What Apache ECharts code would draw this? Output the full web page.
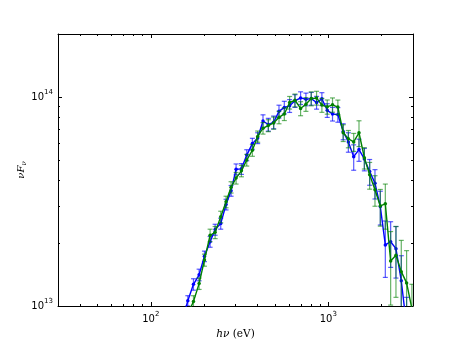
<!DOCTYPE html>
<html><head><meta charset="utf-8">
<script src="https://cdn.jsdelivr.net/npm/echarts@6/dist/echarts.min.js"></script>
<style>html,body{margin:0;padding:0;background:#fff}#c{width:458px;height:345px}</style>
</head><body><div id="c"></div>
<script>
// photon energy hν (eV)
const energy = [150.7, 161.6, 173.9, 187.1, 200.5, 215.8, 230.3, 247.7, 265.4, 283.3, 302.3, 323.9, 347.1, 373.4, 400.0, 428.6, 459.2, 492.2, 527.4, 565.1, 605.5, 648.8, 698.0, 748.0, 801.4, 858.7, 920.1, 986.0, 1056, 1132, 1213, 1297, 1390, 1489, 1596, 1710, 1832, 1963, 2095, 2245, 2405, 2577, 2761, 2958];
// νFν in units of 1e13
const FLUX_UNIT = 1e13;
const blueFlux = [0.85, 1.06, 1.27, 1.41, 1.73, 2.03, 2.32, 2.48, 3.06, 3.56, 4.51, 4.53, 5.27, 5.98, 6.36, 7.67, 7.38, 7.57, 8.53, 8.91, 9.07, 9.58, 9.89, 9.75, 9.82, 9.40, 9.79, 8.63, 8.29, 8.23, 6.84, 6.09, 5.18, 5.60, 5.05, 4.40, 3.87, 2.99, 1.96, 2.03, 1.88, 1.32, 0.80];
const blueErr = [0.05, 0.06, 0.08, 0.09, 0.10, 0.12, 0.14, 0.15, 0.18, 0.21, 0.27, 0.27, 0.32, 0.36, 0.38, 0.54, 0.52, 0.53, 0.60, 0.62, 0.64, 0.67, 0.69, 0.68, 0.69, 0.66, 0.69, 0.65, 0.62, 0.66, 0.60, 0.65, 0.72, 0.68, 0.62, 0.62, 0.62, 0.55, 0.59, 0.50, 0.52, 0.42, 0.30];
const greenFlux = [0.80, 0.92, 1.05, 1.28, 1.66, 2.18, 2.25, 2.67, 3.15, 3.70, 4.09, 4.43, 4.99, 5.56, 6.47, 7.09, 7.30, 7.51, 7.99, 8.29, 9.40, 9.64, 8.81, 9.23, 9.82, 9.89, 9.14, 8.97, 9.17, 8.94, 6.74, 6.31, 6.09, 6.74, 5.12, 4.24, 3.60, 3.01, 3.08, 1.64, 1.75, 1.46, 1.29, 0.97];
const greenErr = [0.05, 0.06, 0.07, 0.08, 0.11, 0.15, 0.15, 0.17, 0.20, 0.23, 0.26, 0.28, 0.32, 0.36, 0.40, 0.45, 0.48, 0.50, 0.55, 0.58, 0.65, 0.68, 0.68, 0.70, 0.75, 0.75, 0.70, 0.70, 0.72, 0.72, 0.62, 0.60, 0.60, 0.95, 0.60, 0.62, 0.60, 0.60, 0.75, 0.63, 0.65, 0.60, 0.55, 0.30];

const xRange = [30, 3000];
const yRange = [1e13, 2e14];
const xMajorTicks = [100, 1000];
const xMinorTicks = [40, 50, 60, 70, 80, 90, 200, 300, 400, 500, 600, 700, 800, 900, 2000, 3000];
const yMajorTicks = [1e13, 1e14];
const yMinorTicks = [2e13, 3e13, 4e13, 5e13, 6e13, 7e13, 8e13, 9e13, 2e14];

const L = Math.log10;
const black = '#000';
const tickFont = 'DejaVu Sans';
const supRich = {
  b: {fontFamily: tickFont, fontSize: 10, lineHeight: 16, color: black},
  s: {fontFamily: tickFont, fontSize: 7, verticalAlign: 'top', color: black}
};
function powLabel(v) { return '{b|10}{s|' + Math.round(v) + '}'; }

function tickAxis(pos, range, vals, len, withLine, labels, extra) {
  const ax = Object.assign({
    type: 'value', position: pos, min: L(range[0]), max: L(range[1]),
    axisLine: {show: withLine, onZero: false, lineStyle: {color: black, width: 1}},
    axisTick: {show: true, inside: true, length: len, customValues: vals.map(L), lineStyle: {color: black, width: 1}},
    axisLabel: labels ? {show: true, customValues: vals.map(L), formatter: powLabel, rich: supRich, margin: 5} : {show: false},
    splitLine: {show: false}
  }, extra || {});
  return ax;
}

const serif = 'DejaVu Serif';
const xAxes = [
  {type: 'log', logBase: 10, min: xRange[0], max: xRange[1], show: false, position: 'bottom'},
  tickAxis('bottom', xRange, xMajorTicks, 4, true, true, {
    name: '{i|hν} {r|(eV)}', nameLocation: 'middle', nameGap: 22, nameMoveOverlap: false,
    nameTextStyle: {rich: {i: {fontFamily: serif, fontStyle: 'italic', fontSize: 10.5, color: black}, r: {fontFamily: serif, fontSize: 10.5, color: black}}}
  }),
  tickAxis('bottom', xRange, xMinorTicks, 2, false, false),
  tickAxis('top', xRange, xMajorTicks, 4, true, false),
  tickAxis('top', xRange, xMinorTicks, 2, false, false)
];
const yAxes = [
  {type: 'log', logBase: 10, min: yRange[0], max: yRange[1], show: false, position: 'left'},
  tickAxis('left', yRange, yMajorTicks, 4, true, true, {
    name: '{i|νF}{s|ν}', nameLocation: 'middle', nameGap: 30, nameRotate: 90, nameMoveOverlap: false,
    nameTextStyle: {rich: {i: {fontFamily: serif, fontStyle: 'italic', fontSize: 10, lineHeight: 14, color: black}, s: {fontFamily: serif, fontStyle: 'italic', fontSize: 7, verticalAlign: 'bottom', color: black}}}
  }),
  tickAxis('left', yRange, yMinorTicks, 2, false, false),
  tickAxis('right', yRange, yMajorTicks, 4, true, false),
  tickAxis('right', yRange, yMinorTicks, 2, false, false)
];

function errData(flux, err) {
  return flux.map((f, i) => [energy[i], (f - err[i]) * FLUX_UNIT, (f + err[i]) * FLUX_UNIT]);
}
function lineData(flux) {
  return flux.map((f, i) => [energy[i], f * FLUX_UNIT]);
}
function errSeries(flux, err, color, z) {
  return {
    type: 'custom', xAxisIndex: 0, yAxisIndex: 0, clip: true, z: z,
    data: errData(flux, err),
    encode: {x: 0, y: [1, 2]},
    renderItem: function (params, api) {
      const x = api.value(0);
      const p1 = api.coord([x, api.value(1)]);
      const p2 = api.coord([x, api.value(2)]);
      const c = 2.5;
      const st = {stroke: color, lineWidth: 1.2};
      return {type: 'group', children: [
        {type: 'line', shape: {x1: p1[0], y1: p1[1], x2: p2[0], y2: p2[1]}, style: st},
        {type: 'line', shape: {x1: p1[0] - c, y1: p1[1], x2: p1[0] + c, y2: p1[1]}, style: st},
        {type: 'line', shape: {x1: p2[0] - c, y1: p2[1], x2: p2[0] + c, y2: p2[1]}, style: st}
      ]};
    }
  };
}
function lineSeries(flux, color, z) {
  return {
    type: 'line', xAxisIndex: 0, yAxisIndex: 0, clip: true, z: z,
    data: lineData(flux), symbol: 'circle', symbolSize: 3.5, showSymbol: true,
    itemStyle: {color: color}, lineStyle: {color: color, width: 1.4}
  };
}

const chart = echarts.init(document.getElementById('c'), null, {renderer: 'canvas'});
chart.setOption({
  animation: false,
  backgroundColor: '#fff',
  grid: {left: 58, right: 45, top: 34, bottom: 35, containLabel: false},
  xAxis: xAxes,
  yAxis: yAxes,
  series: [
    errSeries(blueFlux, blueErr, 'rgba(0,0,255,0.65)', 2),
    lineSeries(blueFlux, '#0000ff', 3),
    errSeries(greenFlux, greenErr, 'rgba(0,128,0,0.6)', 4),
    lineSeries(greenFlux, '#008000', 5)
  ]
});
</script></body></html>
